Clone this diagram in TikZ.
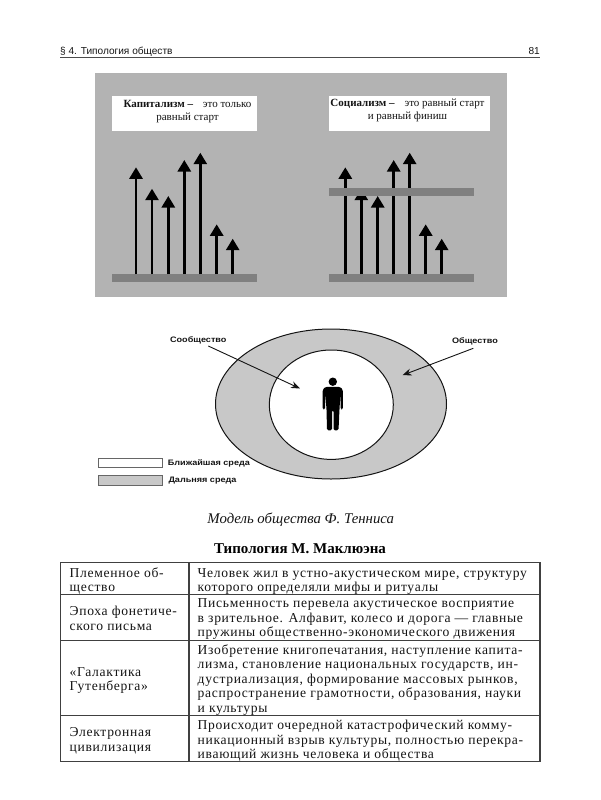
\documentclass[tikz,border=0pt]{standalone}
\usepackage{fontspec}
\setmainfont{Liberation Serif}
\newfontfamily\hdrfont{Liberation Sans}
\newfontfamily\tblfont[LetterSpace=5]{Liberation Serif}
\newfontfamily\lblfont[FakeStretch=1.15]{Liberation Sans}
\usetikzlibrary{arrows.meta}
\definecolor{panelgray}{HTML}{B3B3B3}
\definecolor{bargray}{HTML}{808080}
\definecolor{ringgray}{HTML}{C8C8C8}
\definecolor{inkdark}{HTML}{141414}
\tikzset{
  x=1pt,y=-1pt,
  whitebox/.style={draw=none,fill=white,inner sep=0pt,minimum width=#1,minimum height=35pt,anchor=north west},
  whitebox/.default=145pt,
  barbox/.style={draw=none,fill=bargray,inner sep=0pt,minimum width=145pt,minimum height=8pt,anchor=north west},
  uparrow/.style={line width=2.7pt,-{Triangle[width=13pt,length=11.5pt]},black},
  lbl/.style={inner sep=0pt,font=\lblfont\fontsize{7.9}{9}\selectfont\bfseries,text=inkdark},
  headline/.style={inner sep=0pt,font=\fontsize{11}{12.2}\selectfont,align=center,text=inkdark},
  cell/.style={inner sep=0pt,anchor=north west,align=left,text=inkdark,font=\tblfont\fontsize{13.6}{14.5}\selectfont},
  tline/.style={line width=1.1pt,draw=black!75},
  legendbox/.style={draw=black!60,line width=.7pt,inner sep=0pt,minimum width=64pt,minimum height=9.4pt,anchor=north west},
  ptr/.style={line width=.9pt,-{Stealth[length=9pt,width=7pt]},inkdark}
}
\begin{document}
\begin{tikzpicture}
\useasboundingbox (0,0) rectangle (600,800);
% page header
\node[inner sep=0pt,anchor=base west,font=\hdrfont\fontsize{10.1}{12}\selectfont,text=inkdark] (hdl) at (60,55) {§ 4. Типология обществ};
\node[inner sep=0pt,anchor=base east,font=\hdrfont\fontsize{10.1}{12}\selectfont,text=inkdark] (hdr) at (540,55) {81};
\draw[line width=1pt,draw=black!70] (60,57.5) -- (540,57.5);
% panel
\fill[panelgray] (95,73.5) rectangle (507,296);
\draw[black!30,line width=.7pt] (95,296) -- (507,296) (95,73.5) -- (507,73.5);
\node[whitebox] (capbox) at (112,96) {};
\node[whitebox=161pt] (socbox) at (329,96) {};
\node[headline] (captxt) at (187.5,111.5) {\textbf{Капитализм –}\hspace{7pt} это только\\равный старт};
\node[headline] (soctxt) at (407.5,110.5) {\textbf{Социализм –}\hspace{7pt} это равный старт\\и равный финиш};
\node[barbox] (base1) at (112,274) {};
\node[barbox] (base2) at (329,274) {};
\foreach \n/\x/\t in {a/136/167.3,b/152/188.7,c/168.3/196,d/184.3/160,e/200.3/152.7,f/216.7/224.3,g/232.7/238.7}{
  \coordinate (l\n s) at (\x,274);
  \coordinate (l\n t) at (\x,\t);
  \draw[uparrow] (l\n s) -- (l\n t);
}
\foreach \n/\x/\t in {a/345.3/167.3,b/361.3/188.7,c/377.7/196,d/393.7/160,e/409.7/152.7,f/425.7/224.3,g/441.7/238.7}{
  \coordinate (r\n s) at (\x,274);
  \coordinate (r\n t) at (\x,\t);
  \draw[uparrow] (r\n s) -- (r\n t);
}
\node[barbox] (finish) at (329,188) {};
% ellipses
\draw[line width=1pt,fill=ringgray,draw=inkdark] (331,404) ellipse [x radius=115.5,y radius=75];
\draw[line width=1pt,fill=white,draw=inkdark] (331.3,404.7) ellipse [x radius=62,y radius=54.7];
% person
\fill[black] (332.8,381.7) circle (4.2);
\fill[black,rounded corners=1.5pt] (322.7,389.5) -- (325.5,386.8) -- (340,386.8) -- (342.8,389.5) -- (342.8,409.5) -- (340.5,409.5) -- (340.5,393) -- (339.5,409) -- (338.5,430.3) -- (333.5,430.3) -- (333.5,410) -- (332,410) -- (332,430.3) -- (327,430.3) -- (326.5,409) -- (325.2,393) -- (325.2,409.5) -- (322.7,409.5) -- cycle;
% labels and pointers
\node[lbl] (soobsh) at (198.3,340) {Сообщество};
\node[lbl] (obsh) at (475,341.7) {Общество};
\coordinate (soobshtip) at (300,388.5);
\coordinate (obshtip) at (402.5,375.2);
\draw[ptr] (208.3,346) coordinate (soobshstart) -- (soobshtip);
\draw[ptr] (473.3,348.3) coordinate (obshstart) -- (obshtip);
% legend
\node[legendbox,fill=white] (leg1) at (98.3,457.7) {};
\node[legendbox,fill=ringgray] (leg2) at (98.3,475.3) {};
\node[lbl,anchor=west] (leg1t) at (167.7,463.6) {Ближайшая среда};
\node[lbl,anchor=west] (leg2t) at (168.3,481) {Дальняя среда};
% caption
\node[inner sep=0pt,font=\fontsize{14.8}{16}\selectfont\itshape,text=inkdark] (caption) at (300.7,519.3) {Модель общества Ф. Тенниса};
% table title
\node[inner sep=0pt,font=\fontsize{15}{17}\selectfont\bfseries,text=black] (ttitle) at (300,549) {Типология М. Маклюэна};
% table
\draw[tline] (60.7,562.7) rectangle (540,761.3);
\draw[tline] (60.7,594.3) -- (540,594.3) (60.7,640.3) -- (540,640.3) (60.7,715.7) -- (540,715.7);
\draw[tline] (189,562.7) -- (189,761.3);
\node[cell] (c11) at (69.5,567.5) {Племенное об-\\щество};
\node[cell] (c12) at (197.5,568) {Человек жил в устно-акустическом мире, структуру\\которого определяли мифы и ритуалы};
\node[cell] (c21) at (69.5,606) {Эпоха фонетиче-\\ского письма};
\node[cell] (c22) at (197.5,598.5) {Письменность перевела акустическое восприятие\\в зрительное. Алфавит, колесо и дорога — главные\\пружины общественно-экономического движения};
\node[cell] (c31) at (69.5,667) {«Галактика\\Гутенберга»};
\node[cell] (c32) at (197.5,644.5) {Изобретение книгопечатания, наступление капита-\\лизма, становление национальных государств, ин-\\дустриализация, формирование массовых рынков,\\распространение грамотности, образования, науки\\и культуры};
\node[cell] (c41) at (69.5,727.5) {Электронная\\цивилизация};
\node[cell] (c42) at (197.5,720) {Происходит очередной катастрофический комму-\\никационный взрыв культуры, полностью перекра-\\ивающий жизнь человека и общества};
\end{tikzpicture}
\end{document}
